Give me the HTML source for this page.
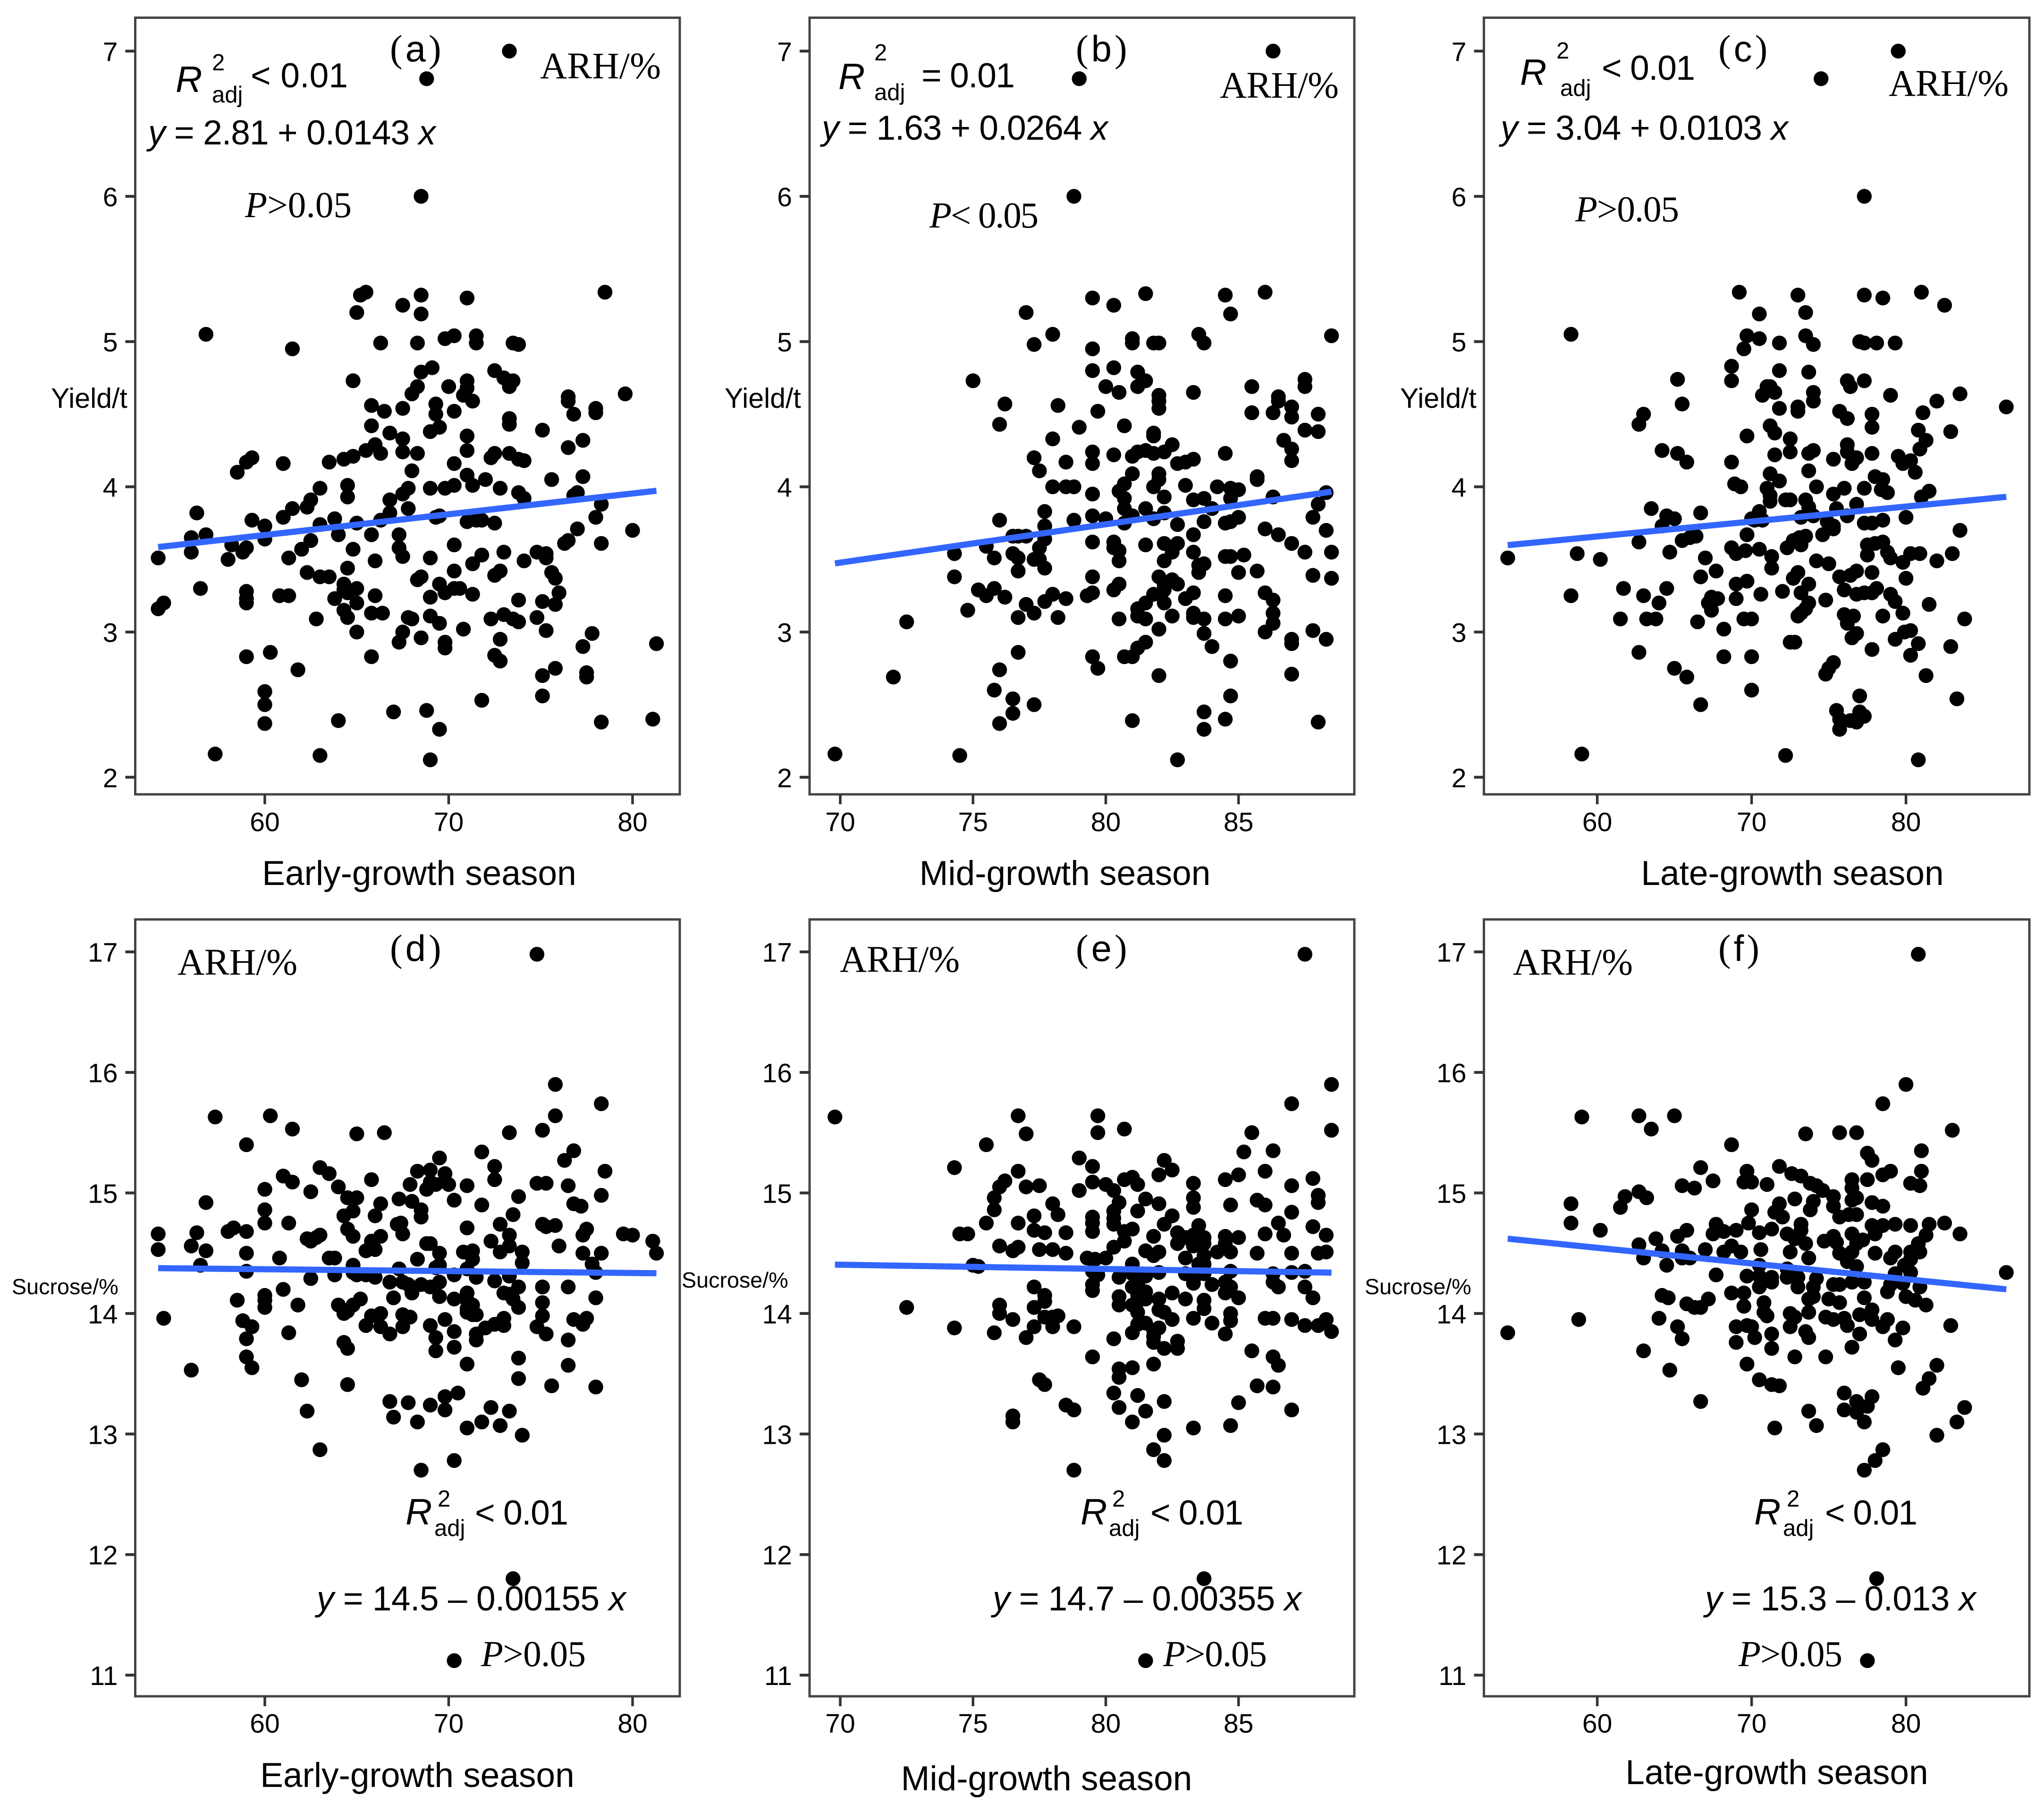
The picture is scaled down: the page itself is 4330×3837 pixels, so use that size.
<!DOCTYPE html>
<html lang="en">
<head>
<meta charset="utf-8">
<title>Relative humidity vs yield and sucrose by growth season</title>
<style>
html,body{margin:0;padding:0;background:#fff;}
svg{display:block;}
text{fill:#000;}
.sans{font-family:"Liberation Sans",sans-serif;}
.serif{font-family:"Liberation Serif",serif;}
.ital{font-style:italic;}
.eq{font-family:"Liberation Sans",sans-serif;font-size:73px;}
.rr{font-family:"Liberation Sans",sans-serif;font-size:78px;font-style:italic;}
.sm{font-family:"Liberation Sans",sans-serif;font-size:49px;}
.arh{font-family:"Liberation Serif",serif;font-size:79px;}
.pv{font-family:"Liberation Serif",serif;font-size:77px;}
.pl{font-family:"Liberation Serif",serif;font-size:80px;}
.axt{font-family:"Liberation Sans",sans-serif;font-size:73px;text-anchor:middle;}
.yl{font-family:"Liberation Sans",sans-serif;font-size:59px;}
.sl{font-family:"Liberation Sans",sans-serif;font-size:46.7px;}
</style>
</head>
<body>
<svg id="fig" xmlns="http://www.w3.org/2000/svg" width="4330" height="3837" viewBox="0 0 4330 3837">
<rect width="4330" height="3837" fill="#fff"/>
<g id="marks"></g>

<g>
<text x="826" y="130" class="pl">(<tspan class="sans" font-size="78" dx="6">a</tspan><tspan dx="6">)</tspan></text>
<text x="372" y="195" class="rr">R</text>
<text x="449" y="149" class="sm">2</text>
<text x="449" y="217" class="sm">adj</text>
<text x="531" y="185" class="eq" textLength="206">&lt; 0.01</text>
<text x="314" y="306" class="eq" textLength="609"><tspan class="ital">y</tspan> = 2.81 + 0.0143 <tspan class="ital">x</tspan></text>
<text x="519" y="460" class="pv" textLength="226"><tspan class="ital">P</tspan>&gt;0.05</text>
<text x="1144" y="166" class="arh" textLength="256">ARH/%</text>
<text x="888" y="1875" class="axt">Early-growth season</text>
<text x="108" y="864" class="yl">Yield/t</text>
</g>

<g>
<text x="2279" y="130" class="pl">(<tspan class="sans" font-size="78" dx="6">b</tspan><tspan dx="6">)</tspan></text>
<text x="1776" y="189" class="rr">R</text>
<text x="1852" y="128" class="sm">2</text>
<text x="1852" y="212" class="sm">adj</text>
<text x="1952" y="185" class="eq" textLength="198">= 0.01</text>
<text x="1741" y="296" class="eq" textLength="606"><tspan class="ital">y</tspan> = 1.63 + 0.0264 <tspan class="ital">x</tspan></text>
<text x="1969" y="482" class="pv" textLength="231"><tspan class="ital">P</tspan>&lt; 0.05</text>
<text x="2584" y="207" class="arh" textLength="252">ARH/%</text>
<text x="2256" y="1875" class="axt">Mid-growth season</text>
<text x="1535" y="864" class="yl">Yield/t</text>
</g>

<g>
<text x="3640" y="130" class="pl">(<tspan class="sans" font-size="78" dx="6">c</tspan><tspan dx="6">)</tspan></text>
<text x="3220" y="180" class="rr">R</text>
<text x="3297" y="124" class="sm">2</text>
<text x="3305" y="203" class="sm">adj</text>
<text x="3393" y="169" class="eq" textLength="198">&lt; 0.01</text>
<text x="3179" y="296" class="eq" textLength="609"><tspan class="ital">y</tspan> = 3.04 + 0.0103 <tspan class="ital">x</tspan></text>
<text x="3337" y="469" class="pv" textLength="220"><tspan class="ital">P</tspan>&gt;0.05</text>
<text x="4001" y="203" class="arh" textLength="254">ARH/%</text>
<text x="3797" y="1875" class="axt">Late-growth season</text>
<text x="2966" y="864" class="yl">Yield/t</text>
</g>

<g>
<text x="826" y="2036" class="pl">(<tspan class="sans" font-size="78" dx="6">d</tspan><tspan dx="6">)</tspan></text>
<text x="376" y="2065" class="arh" textLength="254">ARH/%</text>
<text x="859" y="3230" class="rr">R</text>
<text x="927" y="3192" class="sm">2</text>
<text x="920" y="3254" class="sm">adj</text>
<text x="1006" y="3230" class="eq" textLength="198">&lt; 0.01</text>
<text x="671" y="3412" class="eq" textLength="655"><tspan class="ital">y</tspan> = 14.5 – 0.00155 <tspan class="ital">x</tspan></text>
<text x="1019" y="3530" class="pv" textLength="222"><tspan class="ital">P</tspan>&gt;0.05</text>
<text x="884" y="3786" class="axt">Early-growth season</text>
<text x="25" y="2742" class="sl">Sucrose/%</text>
</g>

<g>
<text x="2279" y="2036" class="pl">(<tspan class="sans" font-size="78" dx="6">e</tspan><tspan dx="6">)</tspan></text>
<text x="1779" y="2059" class="arh" textLength="254">ARH/%</text>
<text x="2289" y="3230" class="rr">R</text>
<text x="2356" y="3192" class="sm">2</text>
<text x="2349" y="3254" class="sm">adj</text>
<text x="2437" y="3230" class="eq" textLength="197">&lt; 0.01</text>
<text x="2103" y="3412" class="eq" textLength="654"><tspan class="ital">y</tspan> = 14.7 – 0.00355 <tspan class="ital">x</tspan></text>
<text x="2464" y="3530" class="pv" textLength="220"><tspan class="ital">P</tspan>&gt;0.05</text>
<text x="2217" y="3793" class="axt">Mid-growth season</text>
<text x="1444" y="2728" class="sl">Sucrose/%</text>
</g>

<g>
<text x="3640" y="2036" class="pl">(<tspan class="sans" font-size="78" dx="6">f</tspan><tspan dx="6">)</tspan></text>
<text x="3205" y="2065" class="arh" textLength="254">ARH/%</text>
<text x="3716" y="3230" class="rr">R</text>
<text x="3785" y="3192" class="sm">2</text>
<text x="3777" y="3254" class="sm">adj</text>
<text x="3866" y="3230" class="eq" textLength="196">&lt; 0.01</text>
<text x="3612" y="3412" class="eq" textLength="574"><tspan class="ital">y</tspan> = 15.3 – 0.013 <tspan class="ital">x</tspan></text>
<text x="3683" y="3530" class="pv" textLength="220"><tspan class="ital">P</tspan>&gt;0.05</text>
<text x="3764" y="3780" class="axt">Late-growth season</text>
<text x="2891" y="2742" class="sl">Sucrose/%</text>
</g>
</svg>

<script>
const arhA=[73.3,68.8,68.5,78.5,65.5,65.2,68.5,71.0,67.5,68.5,65.0,56.8,61.5,66.3,68.3,69.8,70.3,71.5,71.5,73.5,73.8,69.1,68.5,72.5,73.0,73.5,73.3,71.0,71.0,70.8,71.3,64.8,70.0,68.3,68.0,79.6,76.5,76.5,76.8,78.0,78.0,65.8,66.5,67.5,69.3,69.3,70.3,73.3,73.3,65.8,66.8,69.5,69.0,75.1,71.0,67.5,77.3,76.5,66.0,65.5,71.0,67.5,68.3,66.3,64.8,64.3,63.5,61.0,59.3,59.0,58.5,72.5,72.3,73.3,73.8,74.1,70.3,68.0,71.0,72.0,75.6,77.3,64.5,64.5,63.0,69.0,69.8,70.3,71.3,72.8,67.8,67.5,73.8,74.1,77.0,76.8,62.5,62.3,61.5,66.8,56.3,67.8,66.8,78.3,61.0,59.3,63.0,63.8,65.0,66.3,69.3,69.5,71.0,71.5,71.8,72.5,78.0,60,60,56,56.8,64,65.8,67.3,62.5,77,80,76.5,76.3,78.3,58.2,59,58.8,56,54.2,58,62,61.3,64.8,67.3,67.5,70.3,69,66,71.8,71.3,73,74.8,75.3,75.3,74.1,64.5,62.3,63,63.5,70.3,68.5,68.3,72.8,72.5,75.6,75.8,56.5,59,59,59,60.8,61.3,64.3,64.3,65,64.5,63.8,65,66,69.5,69.8,70.3,70.6,71.3,69,73.8,75.1,76,75.8,54.5,54.2,64.3,64.5,62.8,65.8,66.4,67.8,68,69,69.5,72.3,73,73.5,73.8,74.8,65,67.5,67.3,68.5,69.8,69.8,70.8,75.3,72.8,77.8,77.3,81.3,59,60.3,65.8,72.5,72.8,61.8,75.8,75.1,77.5,77.5,60,60,60,75.1,71.8,67,68.8,64,69.5,78.3,81.1,57.3,63,69];
const yieldA=[7.0,6.81,6.0,5.34,5.34,5.32,5.32,5.30,5.25,5.19,5.20,5.05,4.95,4.99,4.99,5.02,5.04,5.04,4.99,4.99,4.98,4.82,4.79,4.80,4.75,4.73,4.69,4.73,4.68,4.63,4.59,4.73,4.69,4.69,4.64,4.64,4.62,4.59,4.50,4.54,4.51,4.56,4.52,4.54,4.57,4.50,4.52,4.47,4.43,4.42,4.37,4.41,4.38,4.39,4.35,4.33,4.32,4.27,4.29,4.25,4.25,4.24,4.23,4.23,4.21,4.19,4.17,4.16,4.20,4.17,4.10,4.23,4.20,4.23,4.19,4.18,4.16,4.11,4.08,4.05,4.05,4.07,4.01,3.93,3.99,3.99,3.99,4.01,4.01,3.99,3.99,3.95,3.96,3.92,3.96,3.94,3.91,3.86,3.85,3.91,3.82,3.85,3.82,3.88,3.79,3.77,3.74,3.78,3.75,3.77,3.79,3.80,3.76,3.77,3.77,3.75,3.79,3.73,3.64,3.65,3.67,3.67,3.67,3.67,3.63,3.71,3.70,3.63,3.61,3.61,3.60,3.58,3.55,3.55,3.51,3.50,3.57,3.51,3.57,3.58,3.52,3.60,3.51,3.49,3.53,3.47,3.55,3.55,3.54,3.51,3.49,3.44,3.41,3.38,3.38,3.42,3.38,3.36,3.42,3.39,3.41,3.37,3.30,3.28,3.23,3.20,3.25,3.25,3.33,3.29,3.30,3.27,3.23,3.20,3.25,3.33,3.27,3.30,3.30,3.26,3.24,3.22,3.21,3.27,3.19,3.20,3.16,3.15,3.10,3.09,3.13,3.13,3.10,3.09,3.11,3.06,3.09,3.12,3.09,3.07,3.10,3.00,3.00,2.93,2.96,2.93,2.89,3.02,3.01,2.95,2.99,2.90,2.92,2.83,2.86,2.83,2.84,2.80,2.74,2.75,2.70,2.72,2.69,2.59,2.50,2.37,2.56,2.53,2.45,2.46,2.39,2.33,2.38,2.40,2.16,2.15,2.12];

const arhB=[86.3,79,78.8,81.5,86,84.5,79.5,80.3,77,84.7,78,77.3,81,81,81.8,82,83.5,83.7,88.5,79.5,80.3,79.5,81.2,75,81.5,81.2,80,80.5,82,82,82,83.3,85.5,87.5,87.5,86.5,86.5,76.2,78.2,79.7,85.5,86.3,87,87,88,76,79,80.7,81.8,81.8,87.5,88,78,86.7,87,82.5,82.2,77.3,79.5,79.5,80.3,81,81.2,81.5,81.8,84.5,87,78.5,77.5,82.7,83,83.3,81,82,82,80.7,80.5,78,78.5,78.8,81.8,83,84.2,84.7,85,85.7,85.7,79.5,80.7,82.2,83.3,83.7,84.7,86.3,88.3,88,80.7,81.5,84,77.7,82.2,79.5,80,81,81.8,76,78.8,77.7,83.7,84.5,84.7,85,80.7,82.7,87.8,86,88.3,86.5,83.3,76.5,76.7,77,77.7,79.5,80.3,82.2,82.7,81.5,87,75.5,74.3,76.5,77.5,80.3,80.5,82.5,83.3,84.5,84.7,85.2,87.5,88.5,75.8,76.7,77.3,77.5,80.5,82.2,83.7,83.5,77.7,76.7,83.5,85,85.7,74.3,79.5,82,87.8,88.5,82.5,82.7,82.2,80.5,80.3,82.2,83.3,83,75.2,75.5,75.8,76.2,78,77.7,78.5,79.3,79.5,81.8,84.5,86,86.3,81.5,81.2,82.2,74.8,77,77.3,76.7,78.2,80.5,81.2,81.5,82.5,83.3,83.3,83.7,84.5,85,86.3,86.3,72.5,82,83.7,86,87.8,87,87,88.3,81.5,81.2,84,76.7,79.5,80.7,81,79.7,84.7,76,82,87,72,75.8,84.7,76.5,77.3,76.5,76,83.7,81,84.5,88,83.7,69.8,74.5,82.7];
const yieldB=[7.0,6.81,6.0,5.33,5.34,5.32,5.30,5.25,5.20,5.19,5.05,4.98,5.02,4.99,4.99,4.99,5.05,4.99,5.04,4.95,4.82,4.80,4.79,4.73,4.73,4.69,4.69,4.65,4.63,4.59,4.54,4.65,4.69,4.74,4.69,4.62,4.59,4.57,4.56,4.52,4.51,4.51,4.55,4.48,4.50,4.43,4.41,4.42,4.37,4.35,4.39,4.38,4.33,4.32,4.26,4.29,4.24,4.20,4.24,4.16,4.22,4.21,4.24,4.25,4.23,4.23,4.18,4.17,4.11,4.16,4.17,4.19,4.09,4.09,4.05,4.02,3.97,4.0,4.0,4.0,4.0,4.01,4.0,3.99,3.98,4.07,4.05,3.95,3.92,3.93,3.91,3.92,3.92,3.93,3.96,3.88,3.85,3.85,3.85,3.83,3.82,3.80,3.78,3.80,3.78,3.77,3.77,3.73,3.76,3.75,3.76,3.79,3.75,3.74,3.79,3.71,3.70,3.67,3.67,3.66,3.66,3.66,3.64,3.62,3.62,3.61,3.61,3.60,3.61,3.59,3.54,3.54,3.58,3.58,3.56,3.55,3.55,3.52,3.52,3.53,3.55,3.55,3.51,3.51,3.50,3.50,3.49,3.49,3.47,3.46,3.44,3.42,3.41,3.41,3.42,3.38,3.38,3.38,3.39,3.37,3.36,3.33,3.32,3.33,3.29,3.29,3.27,3.23,3.29,3.25,3.30,3.24,3.26,3.21,3.23,3.25,3.27,3.26,3.25,3.27,3.22,3.20,3.16,3.20,3.15,3.19,3.13,3.10,3.10,3.09,3.11,3.09,3.11,3.13,3.10,3.09,3.09,3.11,3.13,3.06,3.07,3.02,2.99,3.0,3.01,2.95,2.92,2.95,2.93,2.89,2.90,2.86,2.83,2.83,2.83,2.75,2.80,2.74,2.70,2.71,2.69,2.60,2.56,2.54,2.50,2.44,2.37,2.45,2.39,2.40,2.38,2.33,2.16,2.15,2.12];

const arhC=[79.5,74.5,77.3,69.2,81,73,77.3,78.5,82.5,70.5,73.5,58.3,69.7,70.5,69.5,71.8,73.5,74,77,77.3,78.1,79.3,68.7,71.8,73.7,68.7,65.2,71,71.2,76.2,76.4,77.3,71.5,70.7,74,74,79,83.5,82,65.5,63,62.7,71.8,73,73,75.7,76.2,77.8,81.1,86.5,77.8,71.2,71.5,80.8,82.9,69.7,72.5,81.3,76.2,80.9,64.2,65.2,65.8,71.5,72.5,73.7,74,75.3,76.2,76.8,76.5,77.8,79.5,79.8,80.3,68.7,73.7,80.6,71.2,71.8,78,78.5,71,71.2,71.2,68.9,69.3,74.2,76,77.3,78.4,78.8,75.3,81.5,81,72.2,72.5,73.5,73.7,76.8,63.5,64.5,65,66.7,70.5,75.5,70,70.2,70.7,73.2,74,76.2,74.9,75.3,77.3,77.8,78.5,80,64.2,83.5,74.6,75.3,69.7,65.5,66,66.4,62.7,73.5,73.1,72.7,73.2,72.3,77.5,78,78.5,77.5,68.7,69,69.6,70.5,64.7,58.7,71.3,67,60.2,78.8,79,79.8,80.3,80.9,82,83,74.2,75,71.3,67.7,66.7,77.8,76.8,76.4,75.7,80,73,72.7,69.7,69,61.7,64.5,63,73.7,73.2,72,70.6,76,76.8,77.3,77.8,78.1,79,79.3,58.3,64,69,67.4,67.8,67.2,67.4,73.7,73.5,74.8,81.5,61.5,63.2,63.8,66.5,69.5,70,73.2,73,76,76.6,76.2,78.5,79.8,83.8,68.2,76.8,76.5,80.3,79.9,79.3,80.8,82.9,72.5,72.8,77.8,62.7,68.2,70,80.3,75.3,75,74.8,65,65.8,81.3,70,66.7,77,83.3,75.5,77,77.3,76.8,76.4,75.7,75.7,59,72.2,80.8,54.2];
const yieldC=[7.0,6.81,6.0,5.34,5.34,5.32,5.32,5.3,5.25,5.19,5.2,5.05,5.04,5.02,4.95,4.99,5.04,4.98,5.0,4.99,4.99,4.99,4.83,4.8,4.79,4.73,4.74,4.69,4.69,4.73,4.69,4.73,4.65,4.63,4.65,4.59,4.63,4.64,4.59,4.57,4.5,4.43,4.54,4.55,4.52,4.52,4.47,4.5,4.51,4.55,4.41,4.42,4.37,4.39,4.38,4.35,4.33,4.32,4.29,4.26,4.25,4.23,4.17,4.22,4.24,4.23,4.25,4.19,4.24,4.2,4.16,4.23,4.21,4.16,4.18,4.17,4.11,4.1,4.09,4.04,4.07,4.05,3.99,3.94,3.9,4.02,4.0,4.0,3.99,3.99,3.98,3.96,3.95,3.97,3.93,3.91,3.91,3.91,3.86,3.88,3.85,3.8,3.78,3.82,3.83,3.85,3.78,3.77,3.77,3.79,3.8,3.8,3.76,3.73,3.75,3.75,3.77,3.79,3.73,3.7,3.67,3.71,3.67,3.63,3.65,3.66,3.62,3.66,3.65,3.63,3.6,3.58,3.6,3.61,3.62,3.53,3.58,3.54,3.56,3.57,3.55,3.54,3.52,3.51,3.5,3.55,3.51,3.48,3.54,3.54,3.49,3.54,3.49,3.47,3.44,3.42,3.38,3.41,3.42,3.39,3.38,3.37,3.41,3.37,3.35,3.33,3.3,3.3,3.25,3.33,3.27,3.28,3.26,3.29,3.26,3.27,3.27,3.3,3.26,3.21,3.25,3.2,3.23,3.24,3.23,3.2,3.15,3.2,3.16,3.22,3.19,3.09,3.09,3.09,3.07,3.09,3.09,3.13,3.11,3.12,3.11,3.06,3.11,3.13,3.09,3.02,2.99,2.96,3.01,3.0,2.95,2.92,2.9,2.93,2.93,2.88,2.86,2.83,2.83,2.84,2.79,2.75,2.71,2.75,2.69,2.7,2.6,2.5,2.56,2.54,2.46,2.45,2.42,2.38,2.39,2.4,2.33,2.16,2.15,2.12,3.51];

const arhD=[74.8,75.8,78.3,57.3,60.3,75.8,61.5,75.1,65,66.5,73.3,59,71.8,69.5,76.8,76.3,72.5,72.5,68.3,69,69.8,63,63.5,61,61.5,65.8,69,70,67.9,68.8,69.3,71,74.8,75.3,78.5,76.5,60,62.5,64,78.3,73.8,56.8,65,64.5,67.3,68,70.3,66.3,71.8,76.8,77.2,60,64.8,64.3,68.5,68.5,66,73.5,60,61.3,67.4,67.2,72.8,75.1,75.3,75.8,71,58,58.3,59,56.3,54.2,64.5,64.8,67.5,77.5,77.3,73.3,79.5,80,81.1,62.3,62.8,63,62.5,66.3,65.8,69,68.8,72.3,73.3,76,56,54.2,56.8,65.5,66,69.5,70.8,71.3,72.8,74,77.3,78.3,59,81.3,60.8,63.5,63.8,68.3,71.3,74,64.8,56.5,67.3,69.5,69.3,71,59,77.8,78,64.8,62.5,63.8,65,65.5,66,70.3,71.5,73.3,66.8,67.5,72.5,69.5,68.5,69,67.8,75.1,76.5,73.8,61,68,60,71,73,73.3,60,58.5,67,69.5,70.3,61.8,60,71,71.3,65.2,64.8,78,73.5,73.8,75.1,64,64.5,64.3,71,71.3,71.5,54.5,66.3,65.8,75.1,67.5,67.9,69.8,71,58.8,59.3,73,76.8,77.5,77.3,65.5,66.3,67.5,69,72,72.5,73,74.8,66.8,70.3,61.3,71.5,75.3,59,69.3,71.5,76.5,64.3,64.5,69.3,70.3,59,59.3,73.8,71,76.5,56,62,73.8,64.5,75.6,78,70.5,69.8,66.8,67.8,69,72.3,69.8,62.3,73.3,67,68.3,71.8,72.8,71,74,63,70.3,68.5,73.5,70.3];
const sucroseD=[16.98,15.9,15.74,15.63,15.64,15.64,15.53,15.52,15.49,15.5,15.5,15.4,15.34,15.29,15.35,15.27,15.22,15.11,15.18,15.19,15.16,15.21,15.16,15.14,15.09,15.11,15.09,15.07,15.07,15.03,15.07,15.06,15.08,15.08,15.18,15.06,15.03,15.01,15.05,14.98,14.97,14.92,14.96,14.96,14.95,14.93,14.94,14.91,14.9,14.91,14.89,14.86,14.85,14.81,14.86,14.8,14.81,14.82,14.75,14.75,14.75,14.74,14.74,14.74,14.72,14.73,14.71,14.68,14.71,14.68,14.67,14.66,14.7,14.64,14.66,14.7,14.65,14.65,14.66,14.65,14.6,14.62,14.63,14.65,14.6,14.64,14.6,14.58,14.58,14.6,14.56,14.56,14.56,14.53,14.52,14.52,14.53,14.5,14.51,14.52,14.51,14.51,14.5,14.5,14.5,14.5,14.46,14.46,14.46,14.45,14.45,14.42,14.4,14.4,14.37,14.4,14.38,14.37,14.35,14.41,14.34,14.34,14.29,14.32,14.32,14.32,14.3,14.32,14.3,14.31,14.26,14.26,14.27,14.26,14.24,14.22,14.24,14.22,14.22,14.22,14.2,14.17,14.15,14.17,14.17,14.16,14.11,14.11,14.13,14.14,14.12,14.07,14.05,14.11,14.07,14.12,14.07,14.13,14.12,14.05,14.09,14.07,14.02,14.0,14.04,13.99,13.99,13.96,14.0,13.98,13.98,13.99,13.97,13.95,14.01,13.94,13.89,13.96,13.95,13.96,13.91,13.9,13.89,13.89,13.9,13.88,13.91,13.9,13.89,13.83,13.85,13.84,13.83,13.83,13.79,13.8,13.78,13.78,13.76,13.71,13.69,13.72,13.64,13.55,13.63,13.58,13.57,13.53,13.45,13.46,13.41,13.4,13.39,13.34,13.31,13.27,13.26,13.24,13.22,13.2,13.19,13.19,13.14,13.1,13.1,13.07,13.05,12.99,12.87,12.78,12.7,11.8,11.12];

const arhE=[87.5,88.5,87,69.8,76.7,79.7,77,79.7,80.7,88.5,85.5,75.5,79,85.2,86.3,74.3,79.5,82.2,82.5,82,85,84.5,76.7,86,87.8,76.2,76,77,77.5,79.5,80,80.7,81,81.2,83.3,87,79,80.3,75.8,80.5,81.5,82,83.3,88,88,85.7,86,78,84.7,75.8,83.3,81.2,80.3,78.2,79.5,77.3,82.5,87,75.5,76.7,79.5,79.5,80.3,80.3,81,80.7,82.2,83.5,86.5,87.8,77.3,77.7,78.5,74.5,74.8,86,86.7,88.3,80.7,81.8,82.7,83,83.3,83.7,84.5,85,82.7,83.3,83.7,84.5,76,76.7,76.5,77.5,78,80.3,78.5,81.5,82,85.7,87,88,88.3,84.2,84.7,81.8,79.3,80,79.6,83,83.7,81,75,75.2,83.5,83.7,79.5,79.7,80.5,84.7,87,87.5,81,81.5,82,83,83.5,83.7,86.3,79.5,79.5,81.2,80.5,83.3,84,84.5,84.7,86.3,86.5,87.5,77.3,81,84.5,81.5,81.2,82.5,77.7,87.8,85,83,81.5,80.5,76,77.7,82,83.7,83.7,81.2,81,72.5,77.3,76,78,78.2,77.7,82,82.2,81.2,84.7,84.7,76.5,83.3,82.5,86,86.3,87,88.3,74.3,77.3,78,78.8,84,87.5,88,81.2,81.5,82,81.8,75.8,81,84.5,88.5,77,80.3,81.8,81.8,82.7,82.7,82.2,85.5,79.5,86.3,86.5,81.8,81,80.5,80.5,77.5,77.7,85.7,86.3,80.3,81.2,82.2,85,78.5,78.8,76.5,76.5,80.5,81.5,87,81,83.3,84.7,82.2,81.8,82.2,78.8,83.7,81.5];
const sucroseE=[16.98,15.9,15.74,15.63,15.64,15.64,15.49,15.5,15.53,15.52,15.5,15.4,15.29,15.34,15.35,15.21,15.22,15.27,15.19,15.15,15.15,15.11,15.18,15.18,15.12,15.1,15.05,15.05,15.06,15.09,15.07,15.11,15.13,15.07,15.08,15.06,15.02,15.02,14.96,14.92,14.95,14.91,14.96,14.98,14.92,14.94,14.9,14.91,14.9,14.86,14.88,14.85,14.85,14.82,14.8,14.81,14.81,14.84,14.75,14.75,14.75,14.68,14.79,14.74,14.7,14.68,14.74,14.73,14.75,14.72,14.69,14.67,14.67,14.66,14.66,14.66,14.65,14.65,14.6,14.64,14.67,14.63,14.65,14.63,14.64,14.63,14.58,14.56,14.58,14.58,14.56,14.55,14.52,14.53,14.53,14.55,14.5,14.52,14.51,14.5,14.5,14.5,14.51,14.51,14.51,14.48,14.46,14.46,14.45,14.46,14.48,14.41,14.4,14.39,14.41,14.41,14.35,14.32,14.3,14.35,14.34,14.35,14.33,14.31,14.34,14.33,14.33,14.33,14.33,14.24,14.19,14.24,14.14,14.25,14.24,14.26,14.22,14.26,14.22,14.22,14.22,14.22,14.17,14.18,14.15,14.17,14.15,14.13,14.13,14.12,14.12,14.07,14.07,14.1,14.12,14.11,14.04,14.1,14.07,14.05,14.05,14.0,13.97,13.98,13.97,14.03,14.01,14.01,14.0,13.94,13.95,13.96,13.95,13.96,13.96,13.95,13.95,13.88,13.89,13.89,13.89,13.92,13.9,13.9,13.91,13.92,13.88,13.86,13.84,13.84,13.83,13.85,13.8,13.79,13.81,13.76,13.77,13.71,13.71,13.69,13.64,13.64,13.57,13.58,13.55,13.54,13.47,13.45,13.41,13.4,13.39,13.34,13.32,13.27,13.26,13.24,13.2,13.15,13.1,13.22,13.19,13.2,13.1,13.05,13.07,12.99,12.87,12.78,12.7,11.8,11.12];

const arhF=[80.8,80,78.5,59,62.7,65,63.5,83,73.5,75.7,76.8,68.7,77.5,77.8,81,66.7,71.8,69.7,81,79,78.5,67.5,65.5,66.3,69.5,70,71,76.5,77.5,72.6,73.2,73.8,74.2,74.6,80.3,80.9,62.7,61.8,63.2,76.5,75.3,76.8,58.3,61.5,72.8,74,71.8,75.3,76.5,77.8,78.5,70,73.8,71.5,72,75.7,76.3,76.8,58.3,69.8,67.7,73.2,77.8,78.5,79.3,80.3,81.5,82.5,65.8,60.2,68.2,69,67.5,70.5,71.3,73.2,83.5,65.2,72.3,76.5,75.3,78,77.2,81.3,63.8,80.8,62.7,74.7,72.8,73.5,76.8,75.5,64.2,67,68.7,65.5,68.2,69.3,70.6,78,79.3,75.7,76.5,80.3,80.9,72.5,63,65.5,66,73.7,79,76.2,80.3,64.5,67.7,70.5,72.3,76.8,79.9,86.5,79.3,80.3,69.7,70.5,71.3,72.3,73,74.2,76.5,77.3,75.3,70.5,71.3,73,74,75.7,79,79.8,80.9,68.7,69.5,64.2,64.6,74,78.8,77.3,80,75,73.7,67.2,65.8,66.3,66.7,69.5,70.8,75.7,80.6,81.3,70.8,72.5,72.8,73.7,74.8,75.3,76,77,77.8,64,58.8,71,77.8,78.8,76.2,78.5,69,69.7,70,65.2,72.5,73.5,79.8,82.9,71.3,77,70.2,73.7,65.5,69,71.3,79.3,76.5,63,72.8,74.8,69.7,82,79.5,64.7,81.5,70.5,71.3,71.8,81.1,66.7,76,77.8,76.8,76,77.5,73.7,76.8,83.8,77.3,74.2,83.3,71.5,82,78.5,78,77.3,78.1,77.5,54.2];
const sucroseF=[16.98,15.9,15.74,15.63,15.64,15.64,15.53,15.52,15.49,15.5,15.5,15.4,15.33,15.27,15.35,15.21,15.22,15.18,15.18,15.18,15.15,15.1,15.06,15.04,15.09,15.09,15.07,15.11,15.11,15.16,15.14,15.08,15.06,15.02,15.08,15.06,15.01,14.97,14.96,15.04,14.97,14.96,14.91,14.88,14.95,14.93,14.91,14.89,14.94,14.92,14.89,14.86,14.86,14.84,14.8,14.8,14.82,14.82,14.75,14.75,14.74,14.74,14.73,14.73,14.74,14.73,14.74,14.75,14.69,14.69,14.68,14.69,14.66,14.67,14.7,14.69,14.66,14.64,14.66,14.66,14.64,14.66,14.61,14.65,14.62,14.58,14.57,14.6,14.62,14.58,14.58,14.59,14.52,14.53,14.56,14.52,14.51,14.51,14.53,14.5,14.51,14.5,14.51,14.51,14.51,14.51,14.46,14.46,14.46,14.46,14.46,14.43,14.45,14.4,14.32,14.4,14.37,14.39,14.4,14.34,14.33,14.34,14.31,14.31,14.3,14.3,14.3,14.29,14.26,14.26,14.24,14.22,14.26,14.22,14.22,14.24,14.24,14.25,14.22,14.17,14.17,14.15,14.13,14.14,14.18,14.13,14.14,14.12,14.12,14.12,14.08,14.05,14.05,14.06,14.09,14.09,14.11,14.07,14.01,14.0,13.97,14.01,13.97,13.95,13.96,13.99,14.03,13.96,13.95,13.98,13.95,13.95,13.9,13.89,13.89,13.9,13.89,13.89,13.89,13.85,13.88,13.9,13.83,13.83,13.8,13.8,13.79,13.76,13.71,13.78,13.72,13.69,13.64,13.64,13.58,13.57,13.55,13.53,13.46,13.45,13.41,13.4,13.38,13.27,13.34,13.31,13.27,13.2,13.23,13.19,13.18,13.22,13.1,13.07,13.1,13.05,12.99,12.87,12.78,12.7,11.8,11.12,13.84];

const earlyTicks=[60,70,80];
const midTicks=[70,75,80,85];
const lateTicks=[60,70,80];
const yieldTicks=[2,3,4,5,6,7];
const sucroseTicks=[11,12,13,14,15,16,17];
const fitIntercepts=[2.81,1.63,3.04,14.46,14.653,15.325];
const fitSlopes=[0.0143,0.0264,0.0103,-0.00155,-0.00355,-0.013];

const NS='http://www.w3.org/2000/svg';
const marks=document.getElementById('marks');
function make(tag,attrs,parent){
  const el=document.createElementNS(NS,tag);
  for(const k in attrs){el.setAttribute(k,attrs[k]);}
  parent.appendChild(el);
  return el;
}
function linearAxis(anchorValue,anchorPx,pxPerUnit){
  return function(v){return anchorPx+(v-anchorValue)*pxPerUnit;};
}
const rowTop={frameTop:37.5,frameBottom:1683,y:linearAxis(7,108.3,-307.7),ticks:yieldTicks,labelBase:1761};
const rowBottom={frameTop:1948,frameBottom:3594,y:linearAxis(17,2016.7,-255.4),ticks:sucroseTicks,labelBase:3671};
const colEarly={left:286.5,right:1440,x:linearAxis(60,561,38.95),ticks:earlyTicks};
const colMid={left:1715,right:2869,x:linearAxis(70,1780,56.25),ticks:midTicks};
const colLate={left:3143.5,right:4299,x:linearAxis(60,3383.6,32.7),ticks:lateTicks};
const panels=[
 {id:'a',col:colEarly,row:rowTop,xs:arhA,ys:yieldA},
 {id:'b',col:colMid,row:rowTop,xs:arhB,ys:yieldB},
 {id:'c',col:colLate,row:rowTop,xs:arhC,ys:yieldC},
 {id:'d',col:colEarly,row:rowBottom,xs:arhD,ys:sucroseD},
 {id:'e',col:colMid,row:rowBottom,xs:arhE,ys:sucroseE},
 {id:'f',col:colLate,row:rowBottom,xs:arhF,ys:sucroseF}
];
panels.forEach(function(p,pi){
  const g=make('g',{},marks);
  
  
  const frame=make('rect',{x:p.col.left,y:p.row.frameTop,width:p.col.right-p.col.left,height:p.row.frameBottom-p.row.frameTop,fill:'#fff',stroke:'#444','stroke-width':5},g);
  
  
  p.col.ticks.forEach(function(t){
    const px=p.col.x(t);
    const tk=make('line',{x1:px,x2:px,y1:p.row.frameBottom,y2:p.row.frameBottom+21,stroke:'#333','stroke-width':5.5},g);
    
    
    const lb=make('text',{x:px,y:p.row.labelBase,'text-anchor':'middle','font-size':57,'font-family':'"Liberation Sans",sans-serif'},g);
    lb.textContent=String(t);
    
    
  });
  p.row.ticks.forEach(function(t){
    const py=p.row.y(t);
    const tk=make('line',{x1:p.col.left-21,x2:p.col.left,y1:py,y2:py,stroke:'#333','stroke-width':6},g);
    
    
    const lb=make('text',{x:p.col.left-37,y:py+21,'text-anchor':'end','font-size':57,'font-family':'"Liberation Sans",sans-serif'},g);
    lb.textContent=String(t);
    
    
  });
  const n=Math.min(p.xs.length,p.ys.length);
  for(let i=0;i<n;i++){
    const c=make('circle',{cx:p.col.x(p.xs[i]),cy:p.row.y(p.ys[i]),r:15.7,fill:'#000'},g);
    
    
  }
  const xmin=Math.min.apply(null,p.xs);
  const xmax=Math.max.apply(null,p.xs);
  const a=fitIntercepts[pi];
  const b=fitSlopes[pi];
  const fit=make('line',{x1:p.col.x(xmin),y1:p.row.y(a+b*xmin),x2:p.col.x(xmax),y2:p.row.y(a+b*xmax),stroke:'#3366FF','stroke-width':13},g);
  
  
});
</script>
</body>
</html>
